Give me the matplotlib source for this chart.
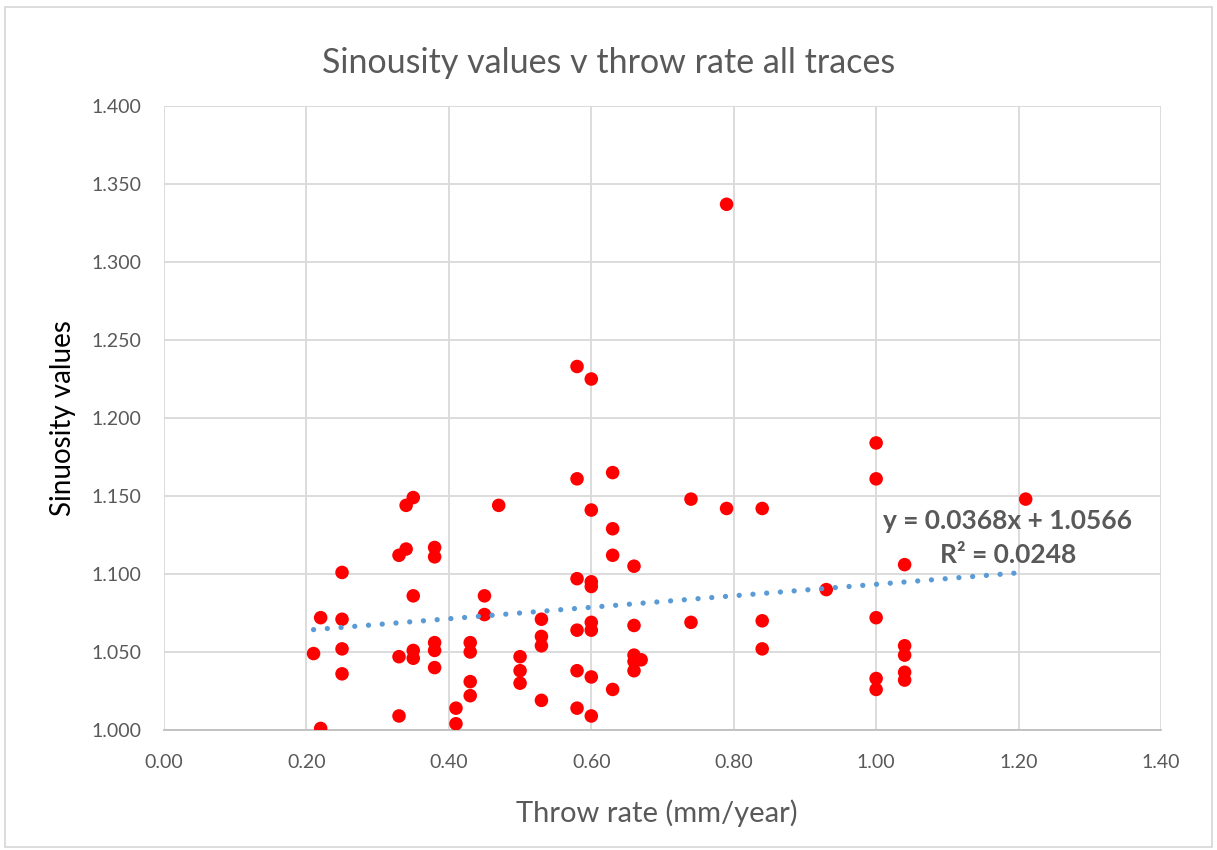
import numpy as np
import matplotlib
matplotlib.use("Agg")
import matplotlib.pyplot as plt
from matplotlib.patches import Rectangle

# ==========================================================
# Data
# ==========================================================

throw_rate = [
    0.21,
    0.22, 0.22,
    0.25, 0.25, 0.25, 0.25,
    0.33, 0.33, 0.33,
    0.34, 0.34,
    0.35, 0.35, 0.35, 0.35,
    0.38, 0.38, 0.38, 0.38, 0.38,
    0.41, 0.41,
    0.43, 0.43, 0.43, 0.43,
    0.45, 0.45,
    0.47,
    0.50, 0.50, 0.50,
    0.53, 0.53, 0.53, 0.53,
    0.58, 0.58, 0.58, 0.58, 0.58, 0.58,
    0.60, 0.60, 0.60, 0.60, 0.60, 0.60, 0.60, 0.60,
    0.63, 0.63, 0.63, 0.63,
    0.66, 0.66, 0.66, 0.66, 0.66,
    0.67,
    0.74, 0.74,
    0.79, 0.79,
    0.84, 0.84, 0.84,
    0.93,
    1.00, 1.00, 1.00, 1.00, 1.00,
    1.04, 1.04, 1.04, 1.04, 1.04,
    1.21,
]

sinuosity = [
    1.049,
    1.072, 1.001,
    1.101, 1.071, 1.052, 1.036,
    1.112, 1.047, 1.009,
    1.144, 1.116,
    1.149, 1.086, 1.051, 1.046,
    1.117, 1.111, 1.056, 1.051, 1.040,
    1.014, 1.004,
    1.056, 1.050, 1.031, 1.022,
    1.086, 1.074,
    1.144,
    1.047, 1.038, 1.030,
    1.071, 1.060, 1.054, 1.019,
    1.233, 1.161, 1.097, 1.064, 1.038, 1.014,
    1.225, 1.141, 1.095, 1.092, 1.069, 1.064, 1.034, 1.009,
    1.165, 1.129, 1.112, 1.026,
    1.105, 1.067, 1.048, 1.044, 1.038,
    1.045,
    1.148, 1.069,
    1.337, 1.142,
    1.142, 1.070, 1.052,
    1.090,
    1.184, 1.161, 1.072, 1.033, 1.026,
    1.106, 1.054, 1.048, 1.037, 1.032,
    1.148,
]

# trendline as printed on the chart
slope = 0.0368
intercept = 1.0566
r_squared = 0.0248

x_ticks = [0.0, 0.2, 0.4, 0.6, 0.8, 1.0, 1.2, 1.4]
y_ticks = [1.00, 1.05, 1.10, 1.15, 1.20, 1.25, 1.30, 1.35, 1.40]

# ==========================================================
# Plot
# ==========================================================

plt.rcParams["font.family"] = ["Lato", "DejaVu Sans"]

TEXT_GREY = "#595959"
GRID_GREY = "#D9D9D9"

fig = plt.figure(figsize=(12.17, 8.5), dpi=100)

ax = fig.add_axes([164 / 1217, 1 - 730 / 850, 997 / 1217, 624 / 850])

ax.scatter(
    throw_rate,
    sinuosity,
    s=95,
    color="#FF0000",
    edgecolors="none",
    zorder=3,
)

trend_x = np.array([min(throw_rate), max(throw_rate)])
trend_y = slope * trend_x + intercept

ax.plot(
    trend_x,
    trend_y,
    color="#5B9BD5",
    linewidth=3.8,
    linestyle=(0, (0.01, 2.6)),
    dash_capstyle="round",
    zorder=4,
)

ax.text(
    1.185,
    1.1228,
    f"y = {slope:.4f}x + {intercept:.4f}\nR² = {r_squared:.4f}",
    ha="center",
    va="center",
    multialignment="center",
    fontsize=19,
    fontweight="bold",
    color=TEXT_GREY,
    linespacing=1.5,
    zorder=5,
)

ax.set_xlim(0, 1.4)
ax.set_ylim(1.0, 1.4)

ax.set_xticks(x_ticks)
ax.set_yticks(y_ticks)
ax.set_xticklabels([f"{v:.2f}" for v in x_ticks])
ax.set_yticklabels([f"{v:.3f}" for v in y_ticks])

ax.tick_params(
    axis="both",
    length=0,
    labelsize=14,
    labelcolor=TEXT_GREY,
)
ax.tick_params(axis="x", pad=17)
ax.tick_params(axis="y", pad=16)

ax.grid(True, color=GRID_GREY, linewidth=1.3)
ax.set_axisbelow(True)

for side in ["top", "right", "left"]:
    ax.spines[side].set_visible(False)
ax.spines["bottom"].set_color("#BFBFBF")
ax.spines["bottom"].set_linewidth(1.3)

ax.set_xlabel("Throw rate (mm/year)", fontsize=21, color=TEXT_GREY)
ax.xaxis.set_label_coords(0.494, -0.112)

ax.set_ylabel("Sinuosity values", fontsize=20, color="black")
ax.yaxis.set_label_coords(-0.088, 0.5)

fig.text(
    0.5,
    1 - 72.6 / 850,
    "Sinousity values v throw rate all traces",
    ha="center",
    va="baseline",
    fontsize=24.5,
    color=TEXT_GREY,
)

# chart area border
fig.patches.append(
    Rectangle(
        (5 / 1217, 3 / 850),
        1207 / 1217,
        840 / 850,
        transform=fig.transFigure,
        fill=False,
        edgecolor=GRID_GREY,
        linewidth=1.3,
    )
)

fig.savefig("out.png", dpi=100, facecolor="white")
